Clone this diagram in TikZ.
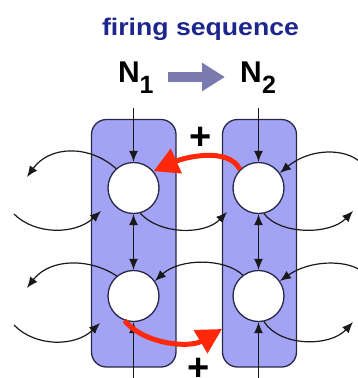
\documentclass[tikz,border=0pt]{standalone}
\usepackage{fontspec}
\setmainfont{Liberation Sans}
\usetikzlibrary{arrows.meta}
\definecolor{titleblue}{RGB}{28,38,140}
\definecolor{colfill}{RGB}{163,163,246}
\definecolor{linec}{RGB}{40,40,70}
\definecolor{blockc}{RGB}{122,122,176}
\definecolor{redc}{RGB}{255,40,10}
\begin{document}
\begin{tikzpicture}[x=1pt,y=-1pt,
  neuron/.style={circle,draw=linec,line width=1.3pt,fill=white,minimum size=51pt,inner sep=0pt},
  colbox/.style={draw=linec,line width=1.3pt,fill=colfill,rounded corners=15pt,inner sep=0pt},
  conn/.style={draw=black!90,line width=1.2pt,-{Latex[length=11pt,width=9pt]}},
  dconn/.style={draw=black!90,line width=1.2pt,{Latex[length=11pt,width=9pt]}-{Latex[length=11pt,width=9pt]}},
  redarr/.style={draw=redc,line width=5pt,-{Triangle[length=25pt,width=26pt]}},
  plus/.style={font=\fontsize{38}{38}\selectfont\bfseries,inner sep=0pt},
  bigN/.style={font=\fontsize{30}{30}\selectfont\bfseries,inner sep=0pt,anchor=base west},
  subN/.style={font=\fontsize{25}{25}\selectfont\bfseries,inner sep=0pt,anchor=base west},
]
\useasboundingbox (0,0) rectangle (358,378);

% title
\node[font=\fontsize{24}{24}\selectfont\bfseries,text=titleblue,inner sep=0pt,anchor=base] (title) at (200.5,35) {\scalebox{1.11}[1]{firing sequence}};

% N labels
\node[bigN] (N1) at (118,82) {N};
\node[subN] (N1s) at (139.5,93) {1};
\node[bigN] (N2) at (240,82) {N};
\node[subN] (N2s) at (262,93) {2};
\coordinate (bs) at (168,77);
\coordinate (be) at (225,77);
\draw[blockc,line width=10pt,-{Triangle[length=23pt,width=27pt]}] (bs) -- (be);

% columns
\node[colbox,minimum width=84.5pt,minimum height=247.5pt] (colL) at (133.75,243.25) {};
\node[colbox,minimum width=74pt,minimum height=247.5pt] (colR) at (259.5,243.25) {};

% neurons
\node[neuron] (L1) at (133.5,188) {};
\node[neuron] (R1) at (258.5,188) {};
\node[neuron] (L2) at (133.5,296) {};
\node[neuron] (R2) at (258.5,296) {};

% free ends
\coordinate (tL) at (133.5,108);
\coordinate (tR) at (258.5,108);
\coordinate (bL) at (133.5,378);
\coordinate (bR) at (258.5,378);
\coordinate (a1) at (27,177);
\coordinate (a2s) at (14,214);
\coordinate (a2) at (101,211);
\coordinate (a3) at (227,212);
\coordinate (a4s) at (360,162);
\coordinate (a5) at (353,211);
\coordinate (b1) at (27,288);
\coordinate (b2s) at (14,325);
\coordinate (b2) at (100,323);
\coordinate (b4s) at (360,270);
\coordinate (b5) at (353,322);
\coordinate (rr) at (222,329);

% vertical connections
\draw[conn] (tL) -- (L1);
\draw[conn] (tR) -- (R1);
\draw[dconn] (L1) -- (L2);
\draw[dconn] (R1) -- (R2);
\draw[conn] (bL) -- (L2);
\draw[conn] (bR) -- (R2);

% curved connections, top row
\draw[conn] (L1.132) .. controls (90,145) and (50,145) .. (a1);
\draw[conn] (a2s) .. controls (35,235) and (75,235) .. (a2);
\draw[conn] (L1.-75) .. controls (160,235) and (205,235) .. (a3);
\draw[conn] (a4s) .. controls (345,148) and (310,148) .. (R1.35);
\draw[conn] (R1.-78) .. controls (280,235) and (330,235) .. (a5);

% curved connections, bottom row
\draw[conn] (L2.130) .. controls (90,258) and (50,258) .. (b1);
\draw[conn] (b2s) .. controls (35,347) and (75,347) .. (b2);
\draw[conn] (R2.127) .. controls (225,258) and (180,258) .. (L2.35);
\draw[conn] (b4s) .. controls (345,260) and (310,260) .. (R2.35);
\draw[conn] (R2.-78) .. controls (280,347) and (330,347) .. (b5);

% red excitatory arrows
\draw[redarr] (R1.135) .. controls (228,146) and (183,158) .. (L1.40);
\draw[redarr] (L2.-110) .. controls (145,345) and (190,348) .. (rr);
\node[plus] (p1) at (201,138) {+};
\node[plus] (p2) at (199,369) {+};
\end{tikzpicture}
\end{document}
